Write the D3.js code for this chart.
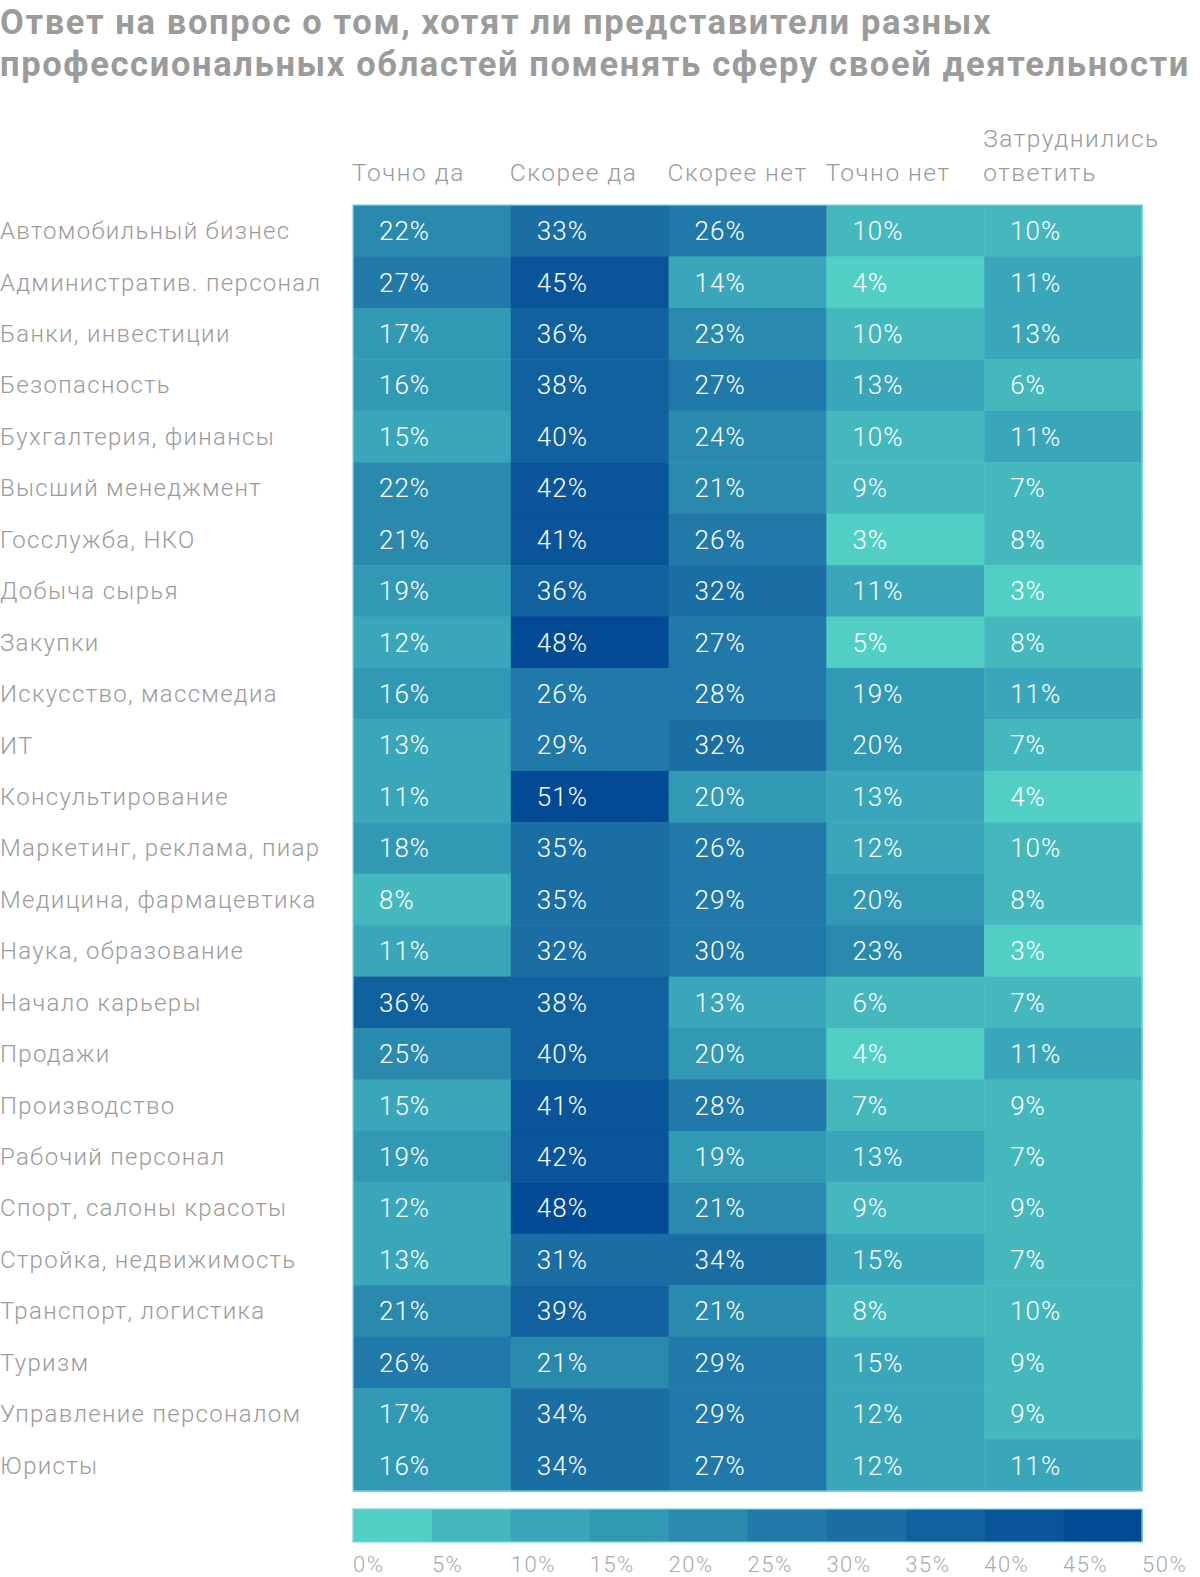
<!DOCTYPE html>
<html><head><meta charset="utf-8">
<script src="https://cdn.jsdelivr.net/npm/d3@7"></script>
<style>
html,body{margin:0;padding:0;background:#fff;}
svg{display:block;}
</style></head><body>
<svg id="chart" width="1200" height="1577"></svg>
<script>
const titleLines = ["Ответ на вопрос о том, хотят ли представители разных",
                    "профессиональных областей поменять сферу своей деятельности"];
const columns = ["Точно да", "Скорее да", "Скорее нет", "Точно нет", "Затруднились ответить"];
const categories = [
  "Автомобильный бизнес","Административ. персонал","Банки, инвестиции","Безопасность",
  "Бухгалтерия, финансы","Высший менеджмент","Госслужба, НКО","Добыча сырья","Закупки",
  "Искусство, массмедиа","ИТ","Консультирование","Маркетинг, реклама, пиар",
  "Медицина, фармацевтика","Наука, образование","Начало карьеры","Продажи","Производство",
  "Рабочий персонал","Спорт, салоны красоты","Стройка, недвижимость","Транспорт, логистика",
  "Туризм","Управление персоналом","Юристы"];
const tochnoDa   = [22,27,17,16,15,22,21,19,12,16,13,11,18,8,11,36,25,15,19,12,13,21,26,17,16];
const skoreeDa   = [33,45,36,38,40,42,41,36,48,26,29,51,35,35,32,38,40,41,42,48,31,39,21,34,34];
const skoreeNet  = [26,14,23,27,24,21,26,32,27,28,32,20,26,29,30,13,20,28,19,21,34,21,29,29,27];
const tochnoNet  = [10,4,10,13,10,9,3,11,5,19,20,13,12,20,23,6,4,7,13,9,15,8,15,12,12];
const zatrudn    = [10,11,13,6,11,7,8,3,8,11,7,4,10,8,3,7,11,9,7,9,7,10,9,9,11];
const legendTicks = [0,5,10,15,20,25,30,35,40,45,50];
const palette = ["#51cfc4","#44b8bd","#3aa6ba","#3299b5","#298aae","#2079a8","#1a6ea4","#12619f","#0a5599","#034a94"];

const series = [tochnoDa, skoreeDa, skoreeNet, tochnoNet, zatrudn];
const cells = [];
categories.forEach((c,i)=>series.forEach((s,j)=>cells.push({cat:c,col:columns[j],v:s[i]})));

const svg = d3.select("#chart");
const gx0 = 353, gx1 = 1142, gy0 = 205, gy1 = 1491;
const x = d3.scaleBand().domain(columns).range([gx0,gx1]);
const y = d3.scaleBand().domain(categories).range([gy0,gy1]);
// values are rounded percentages; a value equal to a bin edge falls into the lower bin
const color = d3.scaleThreshold().domain(legendTicks.slice(1,-1).map(t=>t+0.5)).range(palette);
const gray = "#9b9b9b";
const font = "Roboto, 'Noto Sans', sans-serif";

// title (spacing fitted so the long second line spans the page width)
const tt = svg.append("g").selectAll("text").data(titleLines).join("text")
  .attr("x",0).attr("y",(d,i)=>34+i*42)
  .attr("font-family",font).attr("font-weight",700).attr("font-size",34.5)
  .attr("fill",gray).text(d=>d);
const t2 = tt.nodes()[1];
const ls = Math.max(0,(1190 - t2.getComputedTextLength()) / titleLines[1].length);
tt.attr("letter-spacing", ls);

// headers
const hdr = svg.append("g");
columns.forEach(c=>{
  const words = c==="Затруднились ответить" ? ["Затруднились","ответить"] : [c];
  words.forEach((w,k)=>{
    hdr.append("text").attr("x",x(c)-1).attr("y",181-(words.length-1-k)*34)
      .attr("font-family",font).attr("font-weight",300).attr("font-size",24.5)
      .attr("letter-spacing",1.5)
      .attr("fill",gray).text(w);
  });
});

// row labels
svg.append("g").selectAll("text").data(categories).join("text")
  .attr("x",0).attr("y",d=>y(d)+y.bandwidth()/2)
  .attr("dy","0.35em")
  .attr("font-family",font).attr("font-weight",300).attr("font-size",24)
  .attr("letter-spacing",1.3)
  .attr("fill",gray).text(d=>d);

// cells
svg.append("g").selectAll("rect").data(cells).join("rect")
  .attr("x",d=>x(d.col)).attr("y",d=>y(d.cat))
  .attr("width",x.bandwidth()+0.5).attr("height",y.bandwidth()+0.5)
  .attr("fill",d=>color(d.v));
svg.append("rect").attr("x",gx0).attr("y",gy0).attr("width",gx1-gx0).attr("height",gy1-gy0)
  .attr("fill","none").attr("stroke","#7fd3df").attr("stroke-opacity",0.8).attr("stroke-width",1.5);
svg.append("g").selectAll("text").data(cells).join("text")
  .attr("x",d=>x(d.col)+26).attr("y",d=>y(d.cat)+y.bandwidth()/2)
  .attr("dy","0.36em")
  .attr("font-family",font).attr("font-weight",300).attr("font-size",26)
  .attr("letter-spacing",1)
  .attr("fill","#fff").text(d=>d.v+"%");

// legend
const lx = d3.scaleLinear().domain([0,50]).range([gx0,gx1]);
const ly0 = 1509, ly1 = 1542;
const bins = d3.pairs(legendTicks);
svg.append("g").selectAll("rect").data(bins).join("rect")
  .attr("x",d=>lx(d[0])).attr("y",ly0).attr("width",d=>lx(d[1])-lx(d[0])+0.5).attr("height",ly1-ly0)
  .attr("fill",(d,i)=>palette[i]);
svg.append("rect").attr("x",gx0).attr("y",ly0).attr("width",gx1-gx0).attr("height",ly1-ly0)
  .attr("fill","none").attr("stroke","#7fd3df").attr("stroke-opacity",0.8).attr("stroke-width",1.5);
svg.append("g").selectAll("text").data(legendTicks).join("text")
  .attr("x",d=>lx(d)).attr("y",1572)
  .attr("font-family",font).attr("font-weight",300).attr("font-size",22)
  .attr("letter-spacing",1.5)
  .attr("fill","#aaaaaa").text(d=>d+"%");
</script>
</body></html>
